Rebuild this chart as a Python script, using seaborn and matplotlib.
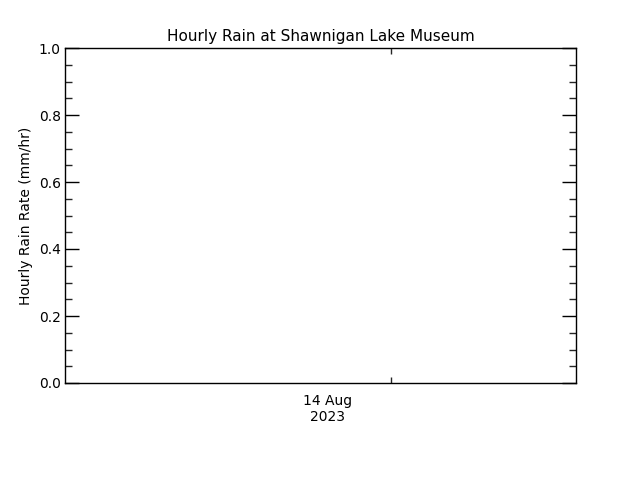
import pandas as pd
import numpy as np
import matplotlib
matplotlib.use('Agg')
import matplotlib.pyplot as plt
import matplotlib.dates as mdates
from matplotlib.ticker import MultipleLocator
import seaborn as sns

# No rain recorded in the window - series is empty
times = pd.to_datetime(['2023-08-13 12:00', '2023-08-14 00:00', '2023-08-14 11:00'])
rain = [np.nan, np.nan, np.nan]
x_start = pd.Timestamp('2023-08-13 11:40')
x_end = pd.Timestamp('2023-08-14 11:40')
label_time = pd.Timestamp('2023-08-14 00:00')
tick_time = pd.Timestamp('2023-08-14 03:00')

sns.set_style('white')
plt.rcParams['font.family'] = ['DejaVu Sans']
plt.rcParams['text.color'] = 'black'
plt.rcParams['axes.labelcolor'] = 'black'

df = pd.DataFrame({'time': times, 'rain': rain})

fig = plt.figure(figsize=(6.4, 4.8), dpi=100)
ax = fig.add_axes([65/640, 97/480, 511/640, 335/480])
sns.lineplot(data=df, x='time', y='rain', ax=ax, color='black')

ax.set_xlim(x_start, x_end)
ax.set_ylim(0, 1)
ax.yaxis.set_major_locator(MultipleLocator(0.2))
ax.yaxis.set_minor_locator(MultipleLocator(0.05))
ax.yaxis.set_major_formatter(matplotlib.ticker.FormatStrFormatter('%.1f'))
ax.tick_params(axis='y', which='major', direction='in', length=10, width=1,
               left=True, right=True, labelsize=10, pad=3, colors='black')
ax.tick_params(axis='y', which='minor', direction='in', length=5, width=1,
               left=True, right=True)

# date label sits at the day, the tick mark a bit later (IDL-style)
ax.set_xticks([mdates.date2num(label_time)])
ax.set_xticklabels(['14 Aug\n2023'])
ax.set_xticks([mdates.date2num(tick_time)], minor=True)
ax.tick_params(axis='x', which='major', length=0, labelsize=10, pad=8, colors='black')
ax.tick_params(axis='x', which='minor', direction='in', length=4, width=1,
               bottom=True, top=True)

for s in ax.spines.values():
    s.set_visible(True)
    s.set_color('black')
    s.set_linewidth(1)

ax.set_xlabel('')
ax.set_ylabel('Hourly Rain Rate (mm/hr)', fontsize=10, labelpad=4)
ax.set_title('Hourly Rain at Shawnigan Lake Museum', fontsize=11, pad=5)

fig.savefig('out.png', dpi=100)
